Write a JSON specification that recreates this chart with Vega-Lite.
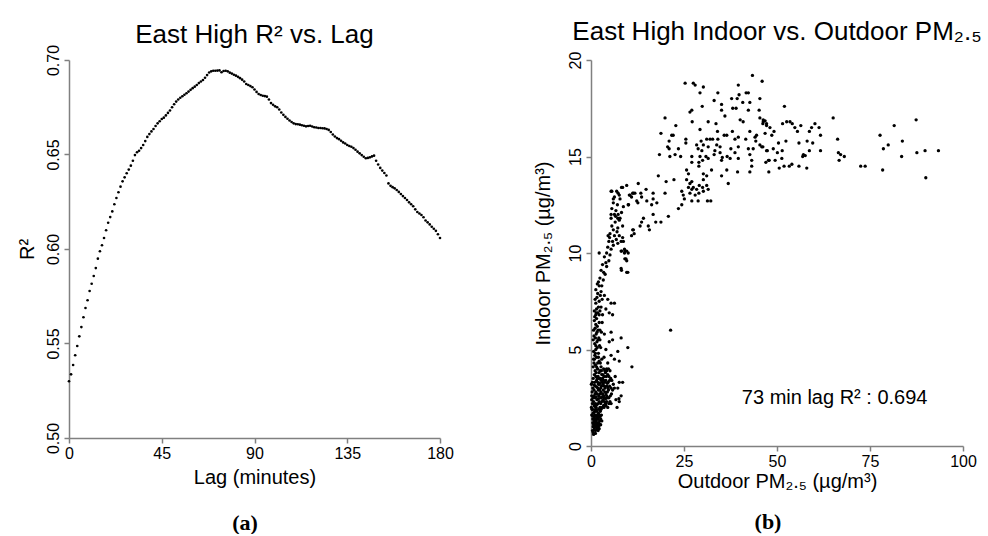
{
  "$schema": "https://vega.github.io/schema/vega-lite/v6.json",
  "background": "white",
  "padding": {"left": 17, "top": 19, "right": 0, "bottom": 0},
  "spacing": 79,
  "config": {
    "view": {"stroke": null},
    "font": "Liberation Sans",
    "axis": {"grid": false, "domainColor": "#808080", "domainWidth": 1.5, "tickColor": "#808080", "tickWidth": 1.5, "tickSize": 5, "labelColor": "#000", "labelFont": "Liberation Sans", "labelFontSize": 16, "titleFont": "Liberation Sans", "titleFontSize": 20, "titleFontWeight": "normal", "titleColor": "#000", "labelPadding": 2, "labelFlush": false},
    "axisY": {"labelAngle": 270, "labelAlign": "center", "labelBaseline": "alphabetic", "labelPadding": 6},
    "title": {"font": "Liberation Sans", "fontSize": 26, "fontWeight": "normal", "color": "#000"}
  },
  "datasets": {
    "lagdata": [
      {"lag":0,"r2":0.5300},{"lag":1,"r2":0.5337},{"lag":2,"r2":0.5386},{"lag":3,"r2":0.5438},{"lag":4,"r2":0.5487},{"lag":5,"r2":0.5538},{"lag":6,"r2":0.5587},{"lag":7,"r2":0.5639},{"lag":8,"r2":0.5688},{"lag":9,"r2":0.5729},
      {"lag":10,"r2":0.5778},{"lag":11,"r2":0.5816},{"lag":12,"r2":0.5857},{"lag":13,"r2":0.5899},{"lag":14,"r2":0.5949},{"lag":15,"r2":0.5988},{"lag":16,"r2":0.6020},{"lag":17,"r2":0.6058},{"lag":18,"r2":0.6099},{"lag":19,"r2":0.6139},
      {"lag":20,"r2":0.6169},{"lag":21,"r2":0.6199},{"lag":22,"r2":0.6237},{"lag":23,"r2":0.6270},{"lag":24,"r2":0.6300},{"lag":25,"r2":0.6330},{"lag":26,"r2":0.6358},{"lag":27,"r2":0.6379},{"lag":28,"r2":0.6401},{"lag":29,"r2":0.6420},
      {"lag":30,"r2":0.6441},{"lag":31,"r2":0.6467},{"lag":32,"r2":0.6497},{"lag":33,"r2":0.6512},{"lag":34,"r2":0.6520},{"lag":35,"r2":0.6534},{"lag":36,"r2":0.6550},{"lag":37,"r2":0.6571},{"lag":38,"r2":0.6593},{"lag":39,"r2":0.6608},
      {"lag":40,"r2":0.6622},{"lag":41,"r2":0.6635},{"lag":42,"r2":0.6651},{"lag":43,"r2":0.6665},{"lag":44,"r2":0.6676},{"lag":45,"r2":0.6688},{"lag":46,"r2":0.6695},{"lag":47,"r2":0.6707},{"lag":48,"r2":0.6720},{"lag":49,"r2":0.6733},
      {"lag":50,"r2":0.6750},{"lag":51,"r2":0.6766},{"lag":52,"r2":0.6780},{"lag":53,"r2":0.6791},{"lag":54,"r2":0.6800},{"lag":55,"r2":0.6808},{"lag":56,"r2":0.6816},{"lag":57,"r2":0.6824},{"lag":58,"r2":0.6833},{"lag":59,"r2":0.6842},
      {"lag":60,"r2":0.6851},{"lag":61,"r2":0.6859},{"lag":62,"r2":0.6868},{"lag":63,"r2":0.6878},{"lag":64,"r2":0.6886},{"lag":65,"r2":0.6894},{"lag":66,"r2":0.6906},{"lag":67,"r2":0.6920},{"lag":68,"r2":0.6934},{"lag":69,"r2":0.6940},
      {"lag":70,"r2":0.6943},{"lag":71,"r2":0.6943},{"lag":72,"r2":0.6944},{"lag":73,"r2":0.6945},{"lag":74,"r2":0.6935},{"lag":75,"r2":0.6942},{"lag":76,"r2":0.6943},{"lag":77,"r2":0.6940},{"lag":78,"r2":0.6933},{"lag":79,"r2":0.6928},
      {"lag":80,"r2":0.6922},{"lag":81,"r2":0.6917},{"lag":82,"r2":0.6911},{"lag":83,"r2":0.6904},{"lag":84,"r2":0.6896},{"lag":85,"r2":0.6886},{"lag":86,"r2":0.6873},{"lag":87,"r2":0.6868},{"lag":88,"r2":0.6862},{"lag":89,"r2":0.6856},
      {"lag":90,"r2":0.6844},{"lag":91,"r2":0.6831},{"lag":92,"r2":0.6820},{"lag":93,"r2":0.6815},{"lag":94,"r2":0.6811},{"lag":95,"r2":0.6809},{"lag":96,"r2":0.6806},{"lag":97,"r2":0.6791},{"lag":98,"r2":0.6772},{"lag":99,"r2":0.6763},
      {"lag":100,"r2":0.6755},{"lag":101,"r2":0.6750},{"lag":102,"r2":0.6738},{"lag":103,"r2":0.6722},{"lag":104,"r2":0.6710},{"lag":105,"r2":0.6699},{"lag":106,"r2":0.6689},{"lag":107,"r2":0.6680},{"lag":108,"r2":0.6672},{"lag":109,"r2":0.6665},
      {"lag":110,"r2":0.6661},{"lag":111,"r2":0.6660},{"lag":112,"r2":0.6658},{"lag":113,"r2":0.6655},{"lag":114,"r2":0.6652},{"lag":115,"r2":0.6649},{"lag":116,"r2":0.6651},{"lag":117,"r2":0.6652},{"lag":118,"r2":0.6648},{"lag":119,"r2":0.6644},
      {"lag":120,"r2":0.6643},{"lag":121,"r2":0.6640},{"lag":122,"r2":0.6640},{"lag":123,"r2":0.6639},{"lag":124,"r2":0.6638},{"lag":125,"r2":0.6635},{"lag":126,"r2":0.6630},{"lag":127,"r2":0.6619},{"lag":128,"r2":0.6606},{"lag":129,"r2":0.6595},
      {"lag":130,"r2":0.6587},{"lag":131,"r2":0.6581},{"lag":132,"r2":0.6573},{"lag":133,"r2":0.6564},{"lag":134,"r2":0.6558},{"lag":135,"r2":0.6550},{"lag":136,"r2":0.6545},{"lag":137,"r2":0.6541},{"lag":138,"r2":0.6534},{"lag":139,"r2":0.6525},
      {"lag":140,"r2":0.6515},{"lag":141,"r2":0.6506},{"lag":142,"r2":0.6497},{"lag":143,"r2":0.6488},{"lag":144,"r2":0.6480},{"lag":145,"r2":0.6482},{"lag":146,"r2":0.6485},{"lag":147,"r2":0.6490},{"lag":148,"r2":0.6494},{"lag":149,"r2":0.6467},
      {"lag":150,"r2":0.6447},{"lag":151,"r2":0.6429},{"lag":152,"r2":0.6415},{"lag":153,"r2":0.6402},{"lag":154,"r2":0.6389},{"lag":155,"r2":0.6347},{"lag":156,"r2":0.6334},{"lag":157,"r2":0.6327},{"lag":158,"r2":0.6321},{"lag":159,"r2":0.6312},
      {"lag":160,"r2":0.6302},{"lag":161,"r2":0.6291},{"lag":162,"r2":0.6280},{"lag":163,"r2":0.6270},{"lag":164,"r2":0.6259},{"lag":165,"r2":0.6247},{"lag":166,"r2":0.6237},{"lag":167,"r2":0.6226},{"lag":168,"r2":0.6210},{"lag":169,"r2":0.6196},
      {"lag":170,"r2":0.6188},{"lag":171,"r2":0.6180},{"lag":172,"r2":0.6168},{"lag":173,"r2":0.6151},{"lag":174,"r2":0.6141},{"lag":175,"r2":0.6130},{"lag":176,"r2":0.6118},{"lag":177,"r2":0.6107},{"lag":178,"r2":0.6096},{"lag":179,"r2":0.6078},
      {"lag":180,"r2":0.6058}
    ],
    "pm": [
      {"o":43.4,"i":19.2},{"o":46.0,"i":18.9},{"o":25.3,"i":18.8},{"o":27.5,"i":18.8},{"o":28.0,"i":18.7},{"o":30.2,"i":18.6},{"o":29.3,"i":18.3},{"o":34.1,"i":18.3},{"o":39.6,"i":18.7},{"o":41.7,"i":18.3},
      {"o":42.3,"i":18.3},{"o":39.8,"i":18.2},{"o":37.8,"i":18.0},{"o":33.1,"i":17.9},{"o":35.1,"i":17.7},{"o":45.4,"i":18.0},{"o":42.7,"i":17.8},{"o":40.8,"i":17.8},{"o":39.3,"i":18.0},{"o":29.9,"i":17.6},
      {"o":27.1,"i":17.4},{"o":26.6,"i":17.3},{"o":35.1,"i":17.4},{"o":38.1,"i":17.5},{"o":39.0,"i":17.5},{"o":42.3,"i":17.4},{"o":45.2,"i":17.4},{"o":36.0,"i":17.1},{"o":19.9,"i":17.0},{"o":27.2,"i":16.8},
      {"o":31.5,"i":16.8},{"o":33.6,"i":16.7},{"o":40.1,"i":16.9},{"o":40.9,"i":16.8},{"o":45.4,"i":17.0},{"o":46.3,"i":16.8},{"o":47.2,"i":16.7},{"o":22.8,"i":16.6},{"o":29.3,"i":16.4},{"o":34.0,"i":16.3},
      {"o":35.8,"i":16.1},{"o":38.0,"i":16.3},{"o":39.6,"i":16.0},{"o":42.7,"i":16.3},{"o":44.5,"i":16.1},{"o":18.8,"i":16.2},{"o":21.7,"i":16.1},{"o":22.1,"i":16.1},{"o":25.5,"i":15.9},{"o":29.6,"i":15.8},
      {"o":31.1,"i":15.9},{"o":32.0,"i":15.9},{"o":32.7,"i":15.9},{"o":34.1,"i":15.9},{"o":36.5,"i":16.1},{"o":38.7,"i":15.9},{"o":41.6,"i":15.9},{"o":44.1,"i":16.0},{"o":44.3,"i":15.8},{"o":21.0,"i":15.8},
      {"o":25.5,"i":15.7},{"o":28.4,"i":15.6},{"o":30.2,"i":15.6},{"o":31.5,"i":15.5},{"o":33.8,"i":15.6},{"o":34.7,"i":15.5},{"o":39.6,"i":15.5},{"o":42.3,"i":15.4},{"o":43.6,"i":15.4},{"o":45.9,"i":15.5},
      {"o":20.6,"i":15.5},{"o":21.0,"i":15.4},{"o":23.5,"i":15.4},{"o":28.8,"i":15.4},{"o":29.8,"i":15.3},{"o":33.3,"i":15.3},{"o":34.7,"i":15.2},{"o":37.6,"i":15.4},{"o":38.7,"i":15.2},{"o":18.4,"i":15.1},
      {"o":21.2,"i":15.0},{"o":22.6,"i":15.1},{"o":24.1,"i":15.0},{"o":27.1,"i":15.0},{"o":29.3,"i":15.0},{"o":30.9,"i":15.0},{"o":33.1,"i":15.1},{"o":35.3,"i":14.95},{"o":36.6,"i":15.0},{"o":37.4,"i":14.9},
      {"o":39.6,"i":14.9},{"o":42.7,"i":15.1},{"o":43.2,"i":14.8},{"o":47.2,"i":15.3},{"o":47.7,"i":14.8},{"o":27.1,"i":14.7},{"o":29.0,"i":14.7},{"o":30.0,"i":14.8},{"o":31.5,"i":14.9},{"o":35.1,"i":14.8},
      {"o":43.2,"i":14.5},{"o":29.0,"i":14.5},{"o":32.4,"i":14.3},{"o":36.5,"i":14.3},{"o":39.4,"i":14.2},{"o":42.7,"i":14.2},{"o":25.7,"i":14.3},{"o":26.2,"i":14.1},{"o":30.2,"i":14.1},{"o":31.1,"i":14.0},
      {"o":35.1,"i":14.0},{"o":18.1,"i":14.0},{"o":22.3,"i":13.8},{"o":25.7,"i":13.8},{"o":27.1,"i":13.7},{"o":30.2,"i":13.8},{"o":20.2,"i":13.7},{"o":36.9,"i":13.6},{"o":26.6,"i":13.6},{"o":27.5,"i":13.4},
      {"o":29.1,"i":13.5},{"o":30.0,"i":13.4},{"o":31.1,"i":13.5},{"o":26.2,"i":13.4},{"o":24.4,"i":13.2},{"o":27.1,"i":13.3},{"o":28.4,"i":13.3},{"o":30.2,"i":13.2},{"o":31.5,"i":13.3},{"o":24.8,"i":13.0},
      {"o":26.6,"i":13.1},{"o":28.0,"i":13.0},{"o":29.0,"i":13.1},{"o":19.9,"i":13.1},{"o":25.1,"i":12.8},{"o":27.1,"i":12.7},{"o":28.8,"i":12.7},{"o":31.3,"i":12.7},{"o":32.2,"i":12.7},{"o":24.4,"i":12.5},
      {"o":23.5,"i":12.3},{"o":20.8,"i":11.9},{"o":18.8,"i":11.6},{"o":17.4,"i":11.6},{"o":16.7,"i":12.0},
      {"o":52.0,"i":17.6},{"o":46.3,"i":16.9},{"o":46.8,"i":16.85},{"o":46.2,"i":16.7},{"o":47.2,"i":16.6},{"o":48.1,"i":16.5},{"o":49.2,"i":16.3},{"o":48.6,"i":16.1},{"o":46.8,"i":16.2},{"o":51.5,"i":16.7},
      {"o":52.6,"i":16.8},{"o":53.5,"i":16.8},{"o":54.1,"i":16.7},{"o":54.8,"i":16.5},{"o":55.5,"i":16.3},{"o":56.4,"i":16.6},{"o":58.7,"i":16.3},{"o":59.3,"i":16.5},{"o":60.2,"i":16.7},{"o":61.3,"i":16.5},
      {"o":61.7,"i":16.1},{"o":65.1,"i":17.0},{"o":45.4,"i":15.6},{"o":46.2,"i":15.5},{"o":47.4,"i":15.3},{"o":49.0,"i":15.4},{"o":50.4,"i":15.7},{"o":51.4,"i":15.3},{"o":52.4,"i":15.8},{"o":50.1,"i":15.2},
      {"o":47.9,"i":14.8},{"o":47.0,"i":14.7},{"o":49.5,"i":14.8},{"o":51.3,"i":14.9},{"o":47.8,"i":14.2},{"o":50.6,"i":14.4},{"o":51.9,"i":14.5},{"o":53.3,"i":14.5},{"o":54.0,"i":14.6},{"o":55.9,"i":14.5},
      {"o":58.0,"i":14.4},{"o":55.9,"i":15.7},{"o":58.1,"i":15.8},{"o":59.6,"i":15.7},{"o":57.1,"i":15.1},{"o":56.9,"i":15.0},{"o":57.6,"i":15.05},{"o":58.7,"i":15.3},{"o":61.7,"i":15.3},{"o":66.3,"i":15.9},
      {"o":66.5,"i":15.2},{"o":67.1,"i":15.1},{"o":66.7,"i":14.8},{"o":68.1,"i":15.0},{"o":72.5,"i":14.5},{"o":73.7,"i":14.5},{"o":77.7,"i":16.1},{"o":78.6,"i":15.4},{"o":79.9,"i":15.6},{"o":78.4,"i":14.3},
      {"o":81.5,"i":16.6},{"o":83.7,"i":15.8},{"o":83.5,"i":15.0},{"o":87.4,"i":16.9},{"o":87.6,"i":15.2},{"o":89.8,"i":15.3},{"o":90.0,"i":13.9},{"o":93.4,"i":15.3},
      {"o":12.7,"i":13.6},{"o":9.6,"i":13.5},{"o":8.5,"i":13.4},{"o":11.4,"i":13.1},{"o":13.4,"i":13.1},{"o":14.8,"i":13.3},{"o":16.7,"i":13.1},{"o":10.5,"i":13.0},{"o":13.6,"i":12.9},{"o":15.0,"i":12.7},
      {"o":16.7,"i":12.8},{"o":17.7,"i":12.6},{"o":12.3,"i":12.7},{"o":10.0,"i":12.5},{"o":8.7,"i":12.4},{"o":16.3,"i":12.5},{"o":8.2,"i":12.1},{"o":7.8,"i":11.8},{"o":14.1,"i":11.8},{"o":13.6,"i":11.6},
      {"o":13.2,"i":11.4},{"o":15.4,"i":11.4},{"o":15.7,"i":11.2},{"o":11.4,"i":11.2},{"o":10.9,"i":10.9},{"o":8.7,"i":10.6},{"o":8.2,"i":10.1},{"o":9.1,"i":10.1},{"o":10.0,"i":10.0},{"o":9.1,"i":9.7},
      {"o":9.6,"i":9.6},{"o":8.2,"i":9.1},{"o":9.6,"i":9.0},{"o":21.4,"i":6.0},
      {"o":0.4,"i":0.8},{"o":0.6,"i":0.7},{"o":0.9,"i":0.9},{"o":1.2,"i":0.8},{"o":1.5,"i":1.0},{"o":0.7,"i":1.1},{"o":1.0,"i":1.2},{"o":1.4,"i":1.3},{"o":1.8,"i":1.1},{"o":2.1,"i":1.2},
      {"o":0.5,"i":1.4},{"o":0.9,"i":1.5},{"o":1.3,"i":1.6},{"o":1.7,"i":1.5},{"o":2.2,"i":1.5},{"o":2.6,"i":1.4},{"o":0.6,"i":1.7},{"o":1.0,"i":1.8},{"o":1.5,"i":1.8},{"o":2.0,"i":1.7},
      {"o":2.5,"i":1.8},{"o":2.8,"i":1.6},{"o":1.1,"i":1.0},{"o":1.9,"i":1.4},{"o":0.8,"i":1.3},{"o":2.4,"i":1.1},{"o":1.6,"i":0.9},{"o":2.9,"i":1.3},{"o":1.2,"i":1.9},{"o":0.4,"i":1.9},
      {"o":2.7,"i":1.9},{"o":1.8,"i":1.6},{"o":0.7,"i":0.6},{"o":1.3,"i":1.1},{"o":2.3,"i":1.6},{"o":1.6,"i":1.4},{"o":1.0,"i":1.6},{"o":2.0,"i":1.0},{"o":0.5,"i":1.2},{"o":2.6,"i":1.1},
      {"o":0.6,"i":1.0},{"o":1.1,"i":1.4},{"o":1.7,"i":1.2},{"o":2.3,"i":1.3},{"o":0.8,"i":1.75},{"o":1.4,"i":1.55},{"o":2.0,"i":1.9},{"o":2.5,"i":1.55},{"o":1.2,"i":0.65},{"o":1.9,"i":0.8},
      {"o":0.5,"i":1.55},{"o":2.2,"i":0.9},
      {"o":0.1,"i":2.0},{"o":0.2,"i":2.4},{"o":0.3,"i":2.8},{"o":0.1,"i":3.2},{"o":0.4,"i":2.2},{"o":0.2,"i":2.6},{"o":0.5,"i":3.0},{"o":0.3,"i":1.9},{"o":0.6,"i":2.5},{"o":0.4,"i":3.3},{"o":0.2,"i":1.6},
      {"o":0.9,"i":2.1},{"o":1.4,"i":2.0},{"o":1.9,"i":2.2},{"o":2.4,"i":2.0},{"o":2.9,"i":2.3},{"o":3.4,"i":2.1},{"o":3.9,"i":2.2},{"o":4.5,"i":2.0},{"o":5.1,"i":2.3},
      {"o":1.1,"i":2.5},{"o":1.6,"i":2.4},{"o":2.1,"i":2.6},{"o":2.6,"i":2.5},{"o":3.1,"i":2.7},{"o":3.6,"i":2.5},{"o":4.2,"i":2.6},{"o":4.8,"i":2.5},{"o":5.5,"i":2.7},
      {"o":0.8,"i":2.9},{"o":1.3,"i":2.8},{"o":1.8,"i":3.0},{"o":2.3,"i":2.9},{"o":2.8,"i":3.1},{"o":3.3,"i":2.9},{"o":3.8,"i":3.0},{"o":4.4,"i":2.8},{"o":5.0,"i":3.1},{"o":5.8,"i":2.9},
      {"o":1.0,"i":3.3},{"o":1.5,"i":3.4},{"o":2.0,"i":3.2},{"o":2.5,"i":3.5},{"o":3.0,"i":3.3},{"o":3.5,"i":3.6},{"o":4.0,"i":3.4},{"o":4.6,"i":3.3},{"o":5.3,"i":3.5},{"o":6.0,"i":3.2},
      {"o":0.9,"i":3.7},{"o":1.4,"i":3.8},{"o":1.9,"i":3.6},{"o":2.4,"i":3.9},{"o":2.9,"i":3.7},{"o":3.4,"i":4.0},{"o":3.9,"i":3.8},{"o":4.5,"i":3.7},{"o":5.1,"i":3.9},
      {"o":1.2,"i":2.2},{"o":2.2,"i":2.3},{"o":3.2,"i":2.4},{"o":4.2,"i":2.3},{"o":1.7,"i":2.7},{"o":2.7,"i":2.8},{"o":3.7,"i":2.8},{"o":4.7,"i":2.9},{"o":1.2,"i":3.1},{"o":2.2,"i":3.2},
      {"o":3.2,"i":3.2},{"o":4.2,"i":3.1},{"o":1.7,"i":3.5},{"o":2.7,"i":3.4},{"o":3.7,"i":3.3},{"o":4.8,"i":3.6},{"o":2.2,"i":3.8},{"o":3.2,"i":3.7},{"o":4.2,"i":3.9},{"o":1.1,"i":2.7},
      {"o":3.0,"i":2.0},{"o":2.0,"i":2.9},{"o":4.0,"i":2.7},{"o":5.6,"i":3.4},{"o":6.3,"i":3.0},{"o":5.4,"i":2.2},
      {"o":1.0,"i":2.05},{"o":1.6,"i":2.15},{"o":2.6,"i":2.2},{"o":3.6,"i":2.3},{"o":4.8,"i":2.2},{"o":1.4,"i":2.55},{"o":2.4,"i":2.7},{"o":3.4,"i":2.6},{"o":4.4,"i":2.5},{"o":5.2,"i":2.6},
      {"o":0.9,"i":3.15},{"o":1.6,"i":3.05},{"o":2.6,"i":3.0},{"o":3.6,"i":3.1},{"o":4.6,"i":3.0},{"o":5.4,"i":3.0},{"o":1.3,"i":3.6},{"o":2.1,"i":3.5},{"o":3.1,"i":3.5},{"o":4.1,"i":3.6},
      {"o":5.0,"i":3.4},{"o":1.1,"i":3.9},{"o":1.7,"i":4.0},{"o":2.8,"i":3.9},{"o":3.7,"i":3.9},{"o":4.7,"i":4.0},{"o":0.7,"i":2.3},{"o":0.6,"i":3.5},{"o":3.0,"i":2.55},{"o":3.9,"i":2.45},
      {"o":2.0,"i":2.45},{"o":2.3,"i":3.25},{"o":3.4,"i":3.4},{"o":4.4,"i":3.25},{"o":1.8,"i":3.3},{"o":0.8,"i":2.6},{"o":3.5,"i":2.0},{"o":4.0,"i":2.1},
      {"o":7.6,"i":3.3},{"o":8.5,"i":3.3},{"o":7.2,"i":3.0},{"o":8.1,"i":2.6},{"o":7.6,"i":2.3},{"o":6.7,"i":2.4},{"o":6.5,"i":3.6},{"o":7.0,"i":2.0},{"o":7.5,"i":2.45},
      {"o":0.6,"i":4.1},{"o":1.2,"i":4.2},{"o":1.8,"i":4.0},{"o":2.5,"i":4.3},{"o":0.9,"i":4.5},{"o":1.5,"i":4.6},{"o":2.2,"i":4.4},{"o":2.9,"i":4.5},{"o":0.7,"i":4.9},{"o":1.3,"i":5.0},
      {"o":2.0,"i":4.8},{"o":2.6,"i":5.1},{"o":1.0,"i":5.3},{"o":1.6,"i":5.4},{"o":2.3,"i":5.2},{"o":0.8,"i":5.7},{"o":1.4,"i":5.8},{"o":2.1,"i":5.6},{"o":2.8,"i":5.9},{"o":1.1,"i":6.1},
      {"o":1.7,"i":6.2},{"o":2.4,"i":6.0},{"o":0.9,"i":6.5},{"o":1.5,"i":6.6},{"o":2.2,"i":6.4},{"o":3.0,"i":6.4},{"o":1.2,"i":4.8},{"o":1.9,"i":5.5},{"o":1.3,"i":6.3},{"o":0.6,"i":5.5},
      {"o":2.7,"i":4.1},{"o":1.8,"i":4.3},{"o":0.8,"i":4.3},{"o":1.5,"i":4.1},{"o":2.0,"i":4.6},{"o":1.0,"i":4.7},{"o":1.7,"i":5.1},{"o":2.4,"i":5.5},{"o":1.2,"i":5.6},{"o":0.7,"i":6.0},
      {"o":1.9,"i":6.0},{"o":1.6,"i":5.9},{"o":0.7,"i":4.5},{"o":1.3,"i":5.2},
      {"o":5.4,"i":5.9},{"o":8.1,"i":5.6},{"o":4.9,"i":5.4},{"o":5.8,"i":5.5},{"o":9.9,"i":5.1},{"o":7.2,"i":4.9},{"o":5.4,"i":4.7},{"o":6.3,"i":4.5},{"o":7.6,"i":4.4},{"o":4.5,"i":4.3},
      {"o":11.0,"i":4.1},{"o":3.5,"i":4.6},{"o":4.0,"i":5.0},{"o":3.6,"i":5.8},{"o":4.2,"i":4.0},
      {"o":1.3,"i":6.8},{"o":1.8,"i":6.9},{"o":2.4,"i":7.0},{"o":3.1,"i":6.8},{"o":1.3,"i":7.4},{"o":2.2,"i":7.5},{"o":2.7,"i":7.2},{"o":4.0,"i":7.1},{"o":4.9,"i":6.9},{"o":5.8,"i":6.8},
      {"o":5.4,"i":7.4},{"o":6.3,"i":7.4},{"o":4.5,"i":7.6},{"o":3.6,"i":7.8},{"o":1.8,"i":7.9},{"o":2.7,"i":8.0},{"o":1.3,"i":8.1},{"o":2.2,"i":8.3},{"o":3.3,"i":8.6},{"o":2.4,"i":8.7},
      {"o":3.8,"i":8.9},{"o":1.6,"i":7.7},{"o":2.0,"i":8.5},{"o":3.0,"i":7.6},{"o":1.5,"i":7.1},{"o":2.9,"i":8.3},{"o":1.4,"i":6.9},{"o":2.0,"i":7.2},{"o":0.9,"i":7.0},{"o":1.1,"i":7.6},
      {"o":1.7,"i":8.4},{"o":2.5,"i":7.8},{"o":1.0,"i":6.7},{"o":2.2,"i":6.8},
      {"o":2.7,"i":9.1},{"o":4.2,"i":9.3},{"o":3.1,"i":9.4},{"o":4.8,"i":9.6},{"o":3.6,"i":9.8},{"o":2.2,"i":10.0},{"o":5.1,"i":9.9},{"o":4.2,"i":10.0},{"o":8.1,"i":9.2},{"o":9.9,"i":9.0},
      {"o":9.4,"i":9.7},{"o":3.4,"i":9.0},{"o":4.0,"i":9.5},
      {"o":4.5,"i":10.3},{"o":5.4,"i":10.2},{"o":4.8,"i":10.6},{"o":5.8,"i":10.6},{"o":7.2,"i":10.5},{"o":8.1,"i":10.1},{"o":9.0,"i":10.0},{"o":5.1,"i":11.0},{"o":6.3,"i":10.9},{"o":7.6,"i":10.9},
      {"o":8.5,"i":10.8},{"o":5.6,"i":11.4},{"o":7.2,"i":11.3},{"o":8.5,"i":11.4},{"o":6.5,"i":11.6},{"o":7.6,"i":11.7},{"o":5.4,"i":11.8},{"o":7.2,"i":11.8},{"o":6.3,"i":12.0},{"o":11.2,"i":11.2},
      {"o":11.6,"i":11.0},{"o":9.6,"i":10.1},{"o":8.1,"i":10.6},{"o":9.0,"i":10.2},{"o":6.0,"i":11.2},{"o":6.8,"i":10.7},{"o":5.0,"i":10.8},{"o":6.0,"i":10.4},{"o":7.0,"i":11.1},{"o":6.6,"i":11.9},
      {"o":5.4,"i":12.0},{"o":7.3,"i":12.0},{"o":4.6,"i":10.9},
      {"o":5.6,"i":12.3},{"o":6.7,"i":12.2},{"o":6.0,"i":12.6},{"o":7.1,"i":12.5},{"o":6.3,"i":12.9},{"o":7.8,"i":12.8},{"o":7.3,"i":13.1},{"o":5.6,"i":13.2},{"o":6.9,"i":13.2},{"o":8.2,"i":13.4},
      {"o":10.3,"i":13.0},{"o":11.2,"i":13.1},{"o":10.1,"i":12.5},{"o":12.6,"i":12.6},{"o":10.9,"i":12.9},{"o":11.8,"i":13.1},{"o":6.0,"i":12.8},{"o":7.6,"i":13.0},{"o":5.4,"i":13.2}
    ]
  },
  "hconcat": [
    {
      "vconcat": [
        {
          "width": 371,
          "height": 378,
          "title": {"text": "East High R² vs. Lag", "baseline": "bottom", "offset": -30},
          "data": {"name": "lagdata"},
          "mark": {"type": "circle", "size": 7, "color": "#000", "opacity": 1},
          "encoding": {
            "x": {"field": "lag", "type": "quantitative", "scale": {"domain": [0, 180], "nice": false, "zero": false}, "axis": {"values": [0, 45, 90, 135, 180], "title": "Lag (minutes)", "titlePadding": 6}},
            "y": {"field": "r2", "type": "quantitative", "scale": {"domain": [0.5, 0.7], "nice": false, "zero": false}, "axis": {"values": [0.5, 0.55, 0.6, 0.65, 0.7], "format": ".2f", "title": "R²", "titlePadding": 8}}
          }
        }
      ],
      "title": {"text": "(a)", "orient": "bottom", "anchor": "middle", "frame": "group", "dx": 176, "font": "Liberation Serif", "fontWeight": "bold", "fontSize": 22, "offset": 26}
    },
    {
      "vconcat": [
        {
          "width": 372,
          "height": 386,
          "title": {"text": "East High Indoor vs. Outdoor PM₂.₅", "baseline": "bottom", "offset": -20},
          "layer": [
            {
              "data": {"name": "pm"},
              "mark": {"type": "circle", "size": 11, "color": "#000", "opacity": 1},
              "encoding": {
                "x": {"field": "o", "type": "quantitative", "scale": {"domain": [0, 100], "nice": false, "zero": false}, "axis": {"values": [0, 25, 50, 75, 100], "title": "Outdoor PM₂.₅ (µg/m³)", "titlePadding": 2}},
                "y": {"field": "i", "type": "quantitative", "scale": {"domain": [0, 20], "nice": false, "zero": false}, "axis": {"values": [0, 5, 10, 15, 20], "title": "Indoor PM₂.₅ (µg/m³)", "titlePadding": 14}}
              }
            },
            {
              "data": {"values": [{"note": "73 min lag R² : 0.694"}]},
              "mark": {"type": "text", "fontSize": 20, "align": "center", "baseline": "alphabetic", "font": "Liberation Sans", "color": "#000"},
              "encoding": {
                "x": {"datum": 65.5, "type": "quantitative"},
                "y": {"datum": 2.18, "type": "quantitative"},
                "text": {"field": "note"}
              }
            }
          ]
        }
      ],
      "title": {"text": "(b)", "orient": "bottom", "anchor": "middle", "frame": "group", "dx": 177, "font": "Liberation Serif", "fontWeight": "bold", "fontSize": 22, "offset": 21}
    }
  ]
}
